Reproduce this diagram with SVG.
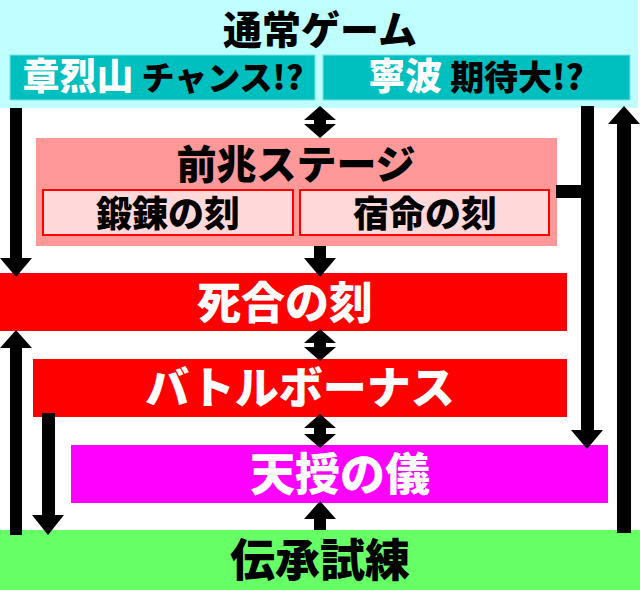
<svg xmlns="http://www.w3.org/2000/svg" width="640" height="594" viewBox="0 0 640 594">
<style>
text{font-family:"Noto Sans CJK JP","Noto Sans CJK SC",sans-serif;font-weight:900;text-anchor:middle}
.w{fill:#ffffff}
.k{fill:#000000}
.arr{fill:#000000}
.sub{fill:#FFD9D9;stroke:#FF0000;stroke-width:2}
.teal{fill:#00BFBF;stroke:#7FE3E3;stroke-width:1}
</style>
<rect width="640" height="594" fill="#ffffff"/>
<g id="normal">
<rect x="0" y="0" width="638" height="108" fill="#BFFFFF"/>
<text x="320" y="44" font-size="39" class="k">通常ゲーム</text>
</g>
<g id="shoretsuzan">
<rect class="teal" x="10" y="55" width="305" height="45"/>
<text x="163" y="89.5"><tspan class="w" font-size="37">章烈山</tspan><tspan class="k" font-size="33" dx="8">チャンス!?</tspan></text>
</g>
<g id="ningbo">
<rect class="teal" x="323" y="55" width="307" height="45"/>
<text x="476" y="89.5"><tspan class="w" font-size="37">寧波</tspan><tspan class="k" font-size="34" dx="8">期待大!?</tspan></text>
</g>
<g id="zencho">
<rect x="36" y="138" width="521" height="108" fill="#FF9999"/>
<text x="296" y="179" font-size="40" class="k">前兆ステージ</text>
</g>
<g id="tanren">
<rect class="sub" x="43" y="190" width="250" height="45"/>
<text x="168" y="227" font-size="36" class="k">鍛錬の刻</text>
</g>
<g id="shukumei">
<rect class="sub" x="300" y="190" width="249" height="45"/>
<text x="425" y="227" font-size="36" class="k">宿命の刻</text>
</g>
<g id="shiai">
<rect x="0" y="273" width="567" height="58" fill="#FF0000"/>
<text x="285" y="319" font-size="44" class="w">死合の刻</text>
</g>
<g id="battle">
<rect x="33" y="359" width="534" height="58" fill="#FF0000"/>
<text x="300" y="404" font-size="44" class="w">バトルボーナス</text>
</g>
<g id="tenju">
<rect x="71" y="445" width="537" height="58" fill="#FF00FF"/>
<text x="340" y="491" font-size="45" class="w">天授の儀</text>
</g>
<g id="densho">
<rect x="0" y="530" width="640" height="60" fill="#66FF66"/>
<text x="320" y="577" font-size="45" class="k">伝承試練</text>
</g>
<g id="connectors" class="arr">
<polygon points="10,108 22,108 22,258 32,258 16,277 0,258 10,258"/>
<polygon points="320,106 336,120 326,120 326,124 336,124 320,138 304,124 314,124 314,120 304,120"/>
<polygon points="314,246 326,246 326,258 336,258 320,277 304,258 314,258"/>
<polygon points="320,329 336,343 326,343 326,347 336,347 320,361 304,347 314,347 314,343 304,343"/>
<polygon points="320,414 336,428 326,428 326,434 336,434 320,448 304,434 314,434 314,428 304,428"/>
<polygon points="314,530 326,530 326,519 336,519 320,501 304,519 314,519"/>
<polygon points="10,535 22,535 22,348 32,348 16,330 0,348 10,348"/>
<polygon points="42,413 55,413 55,515 64,515 48,535 32,515 42,515"/>
<rect x="556" y="185" width="32" height="13"/>
<polygon points="581,106 594,106 594,430 603,430 587,449 571,430 581,430"/>
<polygon points="617,533 631,533 631,124 640,124 624,106 608,124 617,124"/>
</g>
</svg>
